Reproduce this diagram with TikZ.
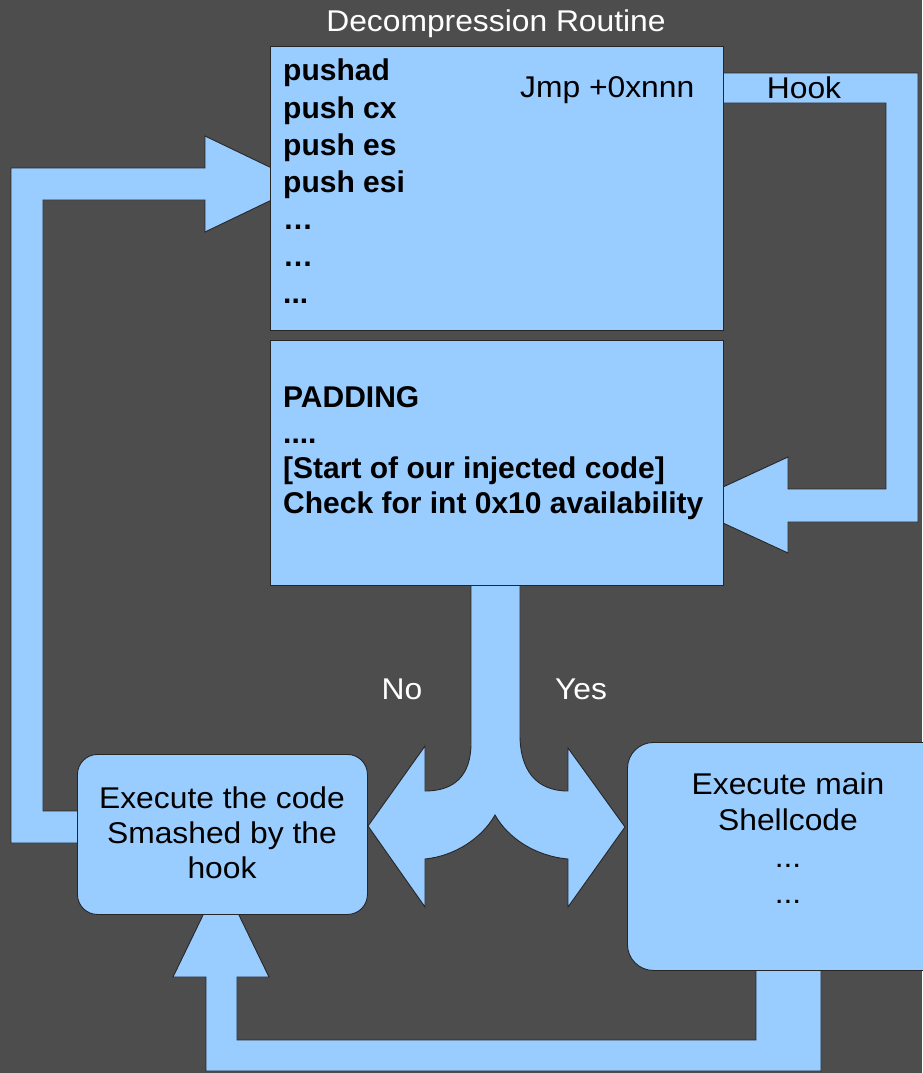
\documentclass[tikz,border=0pt]{standalone}
\usepackage{fontspec}
\setmainfont[FakeStretch=1.06]{Liberation Sans}
\newfontfamily\codefont{Liberation Sans}
\definecolor{bg}{HTML}{4D4D4D}
\definecolor{lb}{HTML}{99CCFF}
\definecolor{edge}{HTML}{262626}
\begin{document}
\begin{tikzpicture}[x=1pt,y=-1pt,
  blk/.style={fill=lb,draw=edge,line width=0.9pt,line join=miter},
  box/.style={fill=lb,draw=edge,line width=0.9pt,inner sep=0pt,anchor=north west},
  code/.style={anchor=base west,inner sep=0pt,font=\codefont\fontsize{30}{36}\selectfont\bfseries},
  plain/.style={anchor=base,inner sep=0pt,font=\fontsize{30}{36}\selectfont},
  lbl/.style={plain,text=white}]
\fill[bg] (0,0) rectangle (922,1073);
\useasboundingbox (0,0) rectangle (922,1073);

% block arrows
\draw[blk] (90,843) -- (11,843) -- (11,168) -- (205,168) -- (205,136) -- (305,184)
  -- (205,232) -- (205,200) -- (43,200) -- (43,811) -- (90,811) -- cycle;
\draw[blk] (715,73) -- (918,73) -- (918,522) -- (788,522) -- (788,553) -- (684,505)
  -- (788,457) -- (788,489) -- (886,489) -- (886,103) -- (715,103) -- cycle;
\draw[blk] (471,578) -- (471,743) .. controls (471,775) and (455,791) .. (425,791)
  -- (425,746) -- (368,826) -- (425,907) -- (425,859)
  .. controls (455,856) and (482,838) .. (495,815)
  .. controls (508,838) and (535,856) .. (568,859)
  -- (568,907) -- (625,827) -- (568,748) -- (568,791)
  .. controls (536,791) and (520,770) .. (520,735) -- (520,578) -- cycle;
\draw[blk] (756,960) -- (756,1040) -- (237,1040) -- (237,977) -- (269,977) -- (221,878)
  -- (173,977) -- (206,977) -- (206,1071) -- (821,1071) -- (821,960) -- cycle;

% boxes
\node[box,minimum width=453pt,minimum height=284pt] (dec) at (270,46) {};
\node[box,minimum width=453pt,minimum height=245pt] (pad) at (270,340) {};
\node[box,rounded corners=20pt,minimum width=290pt,minimum height=160pt] (smash) at (77,754) {};
\node[box,rounded corners=26pt,minimum width=330pt,minimum height=228pt] (shell) at (627,742) {};

% texts
\node[lbl] (title) at (496,32) {Decompression Routine};
\node[code] (c1) at (283,81) {pushad};
\node[code] (c2) at (283,118) {push cx};
\node[code] (c3) at (283,155) {push es};
\node[code] (c4) at (283,192) {push esi};
\node[code] (c5) at (283,229) {…};
\node[code] (c6) at (283,266) {…};
\node[code] (c7) at (283,303) {...};
\node[plain,anchor=base west] (jmp) at (520,97) {Jmp +0xnnn};
\node[plain] (hook) at (804,99) {Hook};

\node[code] (p1) at (283,407) {PADDING};
\node[code] (p2) at (283,443) {....};
\node[code] (p3) at (283,478) {[Start of our injected code]};
\node[code] (p4) at (283,513) {Check for int 0x10 availability};

\node[lbl] (no) at (402,699) {No};
\node[lbl] (yes) at (581,699) {Yes};

\node[plain] (s1) at (222,808) {Execute the code};
\node[plain] (s2) at (222,843) {Smashed by the};
\node[plain] (s3) at (222,878) {hook};

\node[plain] (m1) at (788,794) {Execute main};
\node[plain] (m2) at (788,830) {Shellcode};
\node[plain] (m3) at (788,867) {...};
\node[plain] (m4) at (788,903) {...};
\end{tikzpicture}
\end{document}
